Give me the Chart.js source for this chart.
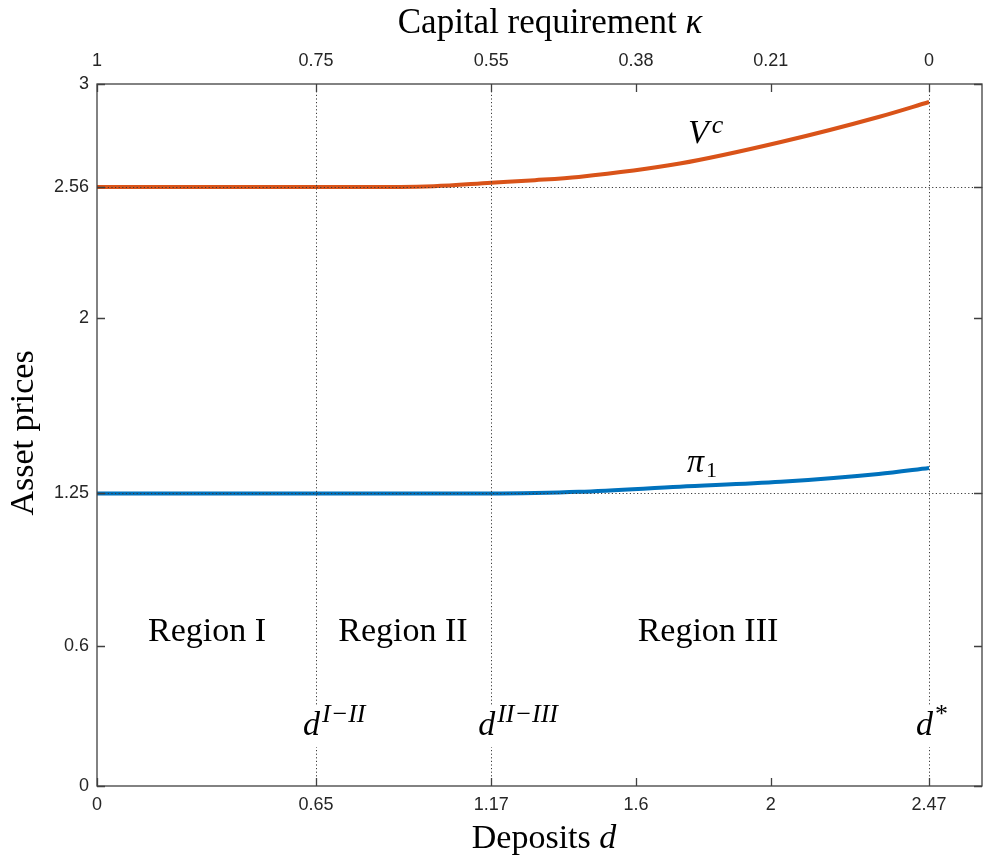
<!DOCTYPE html>
<html>
<head>
<meta charset="utf-8">
<script src="https://cdn.jsdelivr.net/npm/chart.js@4.4.1/dist/chart.umd.min.js"></script>
<style>
  html, body { margin: 0; padding: 0; background: #fff; }
  #wrap { width: 983px; height: 859px; }
</style>
</head>
<body>
<div id="wrap"><canvas id="assetChart" width="983" height="859"></canvas></div>
<script>
// data
const deposits  = [0, 0.3, 0.65, 0.9, 1.0, 1.17, 1.3, 1.43, 1.73, 2.03, 2.32, 2.47];
const valueVc   = [2.56, 2.56, 2.56, 2.56, 2.563, 2.578, 2.589, 2.603, 2.66, 2.752, 2.859, 2.923];
const pricePi1  = [1.25, 1.25, 1.25, 1.25, 1.25, 1.25, 1.252, 1.257, 1.279, 1.30, 1.333, 1.359];

const depositTicks = [0, 0.65, 1.17, 1.6, 2, 2.47];
const depositLabels = ['0', '0.65', '1.17', '1.6', '2', '2.47'];
const kappaLabels = ['1', '0.75', '0.55', '0.38', '0.21', '0'];
const priceTicks = [0, 0.6, 1.25, 2, 2.56, 3];
const priceLabels = ['0', '0.6', '1.25', '2', '2.56', '3'];

const refPrices = [1.25, 2.56];
const refDeposits = [0.65, 1.17, 2.47];

const SERIF = '"Liberation Serif", "Times New Roman", serif';
const SANS = '"Liberation Sans", Arial, sans-serif';
const AXIS_COLOR = '#404040';

function toPoints(xs, ys) {
    return xs.map((x, i) => ({ x: x, y: ys[i] }));
}

// draws a run of text pieces (different fonts / offsets) side by side
function drawRich(ctx, parts, x, y, align) {
    let total = 0;
    parts.forEach(p => { ctx.font = p.font; p.w = ctx.measureText(p.text).width; total += p.w + (p.gap || 0); });
    let cx = align === 'center' ? x - total / 2 : x;
    parts.forEach(p => {
        ctx.font = p.font;
        ctx.fillText(p.text, cx, y + (p.dy || 0));
        cx += p.w + (p.gap || 0);
    });
    return total;
}

const decorations = {
    id: 'decorations',
    afterDatasetsDraw(chart) {
        const ctx = chart.ctx;
        const area = chart.chartArea;
        const xs = chart.scales.x;
        const ys = chart.scales.y;

        ctx.save();
        // dotted reference lines
        ctx.strokeStyle = '#3a3a3a';
        ctx.lineWidth = 1;
        ctx.setLineDash([1.2, 2.4]);
        refPrices.forEach(v => {
            const py = Math.round(ys.getPixelForValue(v)) + 0.5;
            ctx.beginPath(); ctx.moveTo(area.left, py); ctx.lineTo(area.right, py); ctx.stroke();
        });
        refDeposits.forEach(v => {
            const px = Math.round(xs.getPixelForValue(v)) + 0.5;
            ctx.beginPath(); ctx.moveTo(px, area.top); ctx.lineTo(px, area.bottom); ctx.stroke();
        });
        ctx.setLineDash([]);

        // box and inward ticks
        ctx.strokeStyle = AXIS_COLOR;
        ctx.lineWidth = 1.3;
        ctx.strokeRect(area.left, area.top, area.right - area.left - 1, area.bottom - area.top);
        const tl = 8;
        ctx.beginPath();
        depositTicks.forEach(v => {
            const px = Math.round(xs.getPixelForValue(v)) + 0.5;
            ctx.moveTo(px, area.bottom); ctx.lineTo(px, area.bottom - tl);
            ctx.moveTo(px, area.top); ctx.lineTo(px, area.top + tl);
        });
        priceTicks.forEach(v => {
            const py = Math.round(ys.getPixelForValue(v)) + 0.5;
            ctx.moveTo(area.left, py); ctx.lineTo(area.left + tl, py);
            ctx.moveTo(area.right - 1, py); ctx.lineTo(area.right - 1 - tl, py);
        });
        ctx.stroke();

        // annotations
        ctx.fillStyle = '#000';
        ctx.textBaseline = 'alphabetic';
        ctx.textAlign = 'left';
        const big = '34px ' + SERIF;
        const itBig = 'italic 34px ' + SERIF;
        const itSup = 'italic 26px ' + SERIF;

        drawRich(ctx, [{ text: 'Region I', font: big }], 207, 641, 'center');
        drawRich(ctx, [{ text: 'Region II', font: big }], 403, 641, 'center');
        drawRich(ctx, [{ text: 'Region III', font: big }], 708, 641, 'center');

        drawRich(ctx, [{ text: 'V', font: itBig, gap: 3 }, { text: 'c', font: itSup, dy: -10 }], 688, 143, 'left');
        drawRich(ctx, [{ text: '\u03c0', font: itBig, gap: 2 }, { text: '1', font: '22px ' + SERIF, dy: 5 }], 687, 472, 'left');

        // boundary labels with white boxes that break the dotted lines
        const dLabels = [
            { v: 0.65, sup: 'I\u2212II' },
            { v: 1.17, sup: 'II\u2212III' },
            { v: 2.47, sup: '*' }
        ];
        dLabels.forEach(l => {
            const px = xs.getPixelForValue(l.v);
            const parts = [{ text: 'd', font: itBig, gap: 2 }, { text: l.sup, font: l.sup === '*' ? '26px ' + SERIF : itSup, dy: -13 }];
            let w = 0;
            parts.forEach(p => { ctx.font = p.font; w += ctx.measureText(p.text).width + (p.gap || 0); });
            const left = px - 13;
            ctx.fillStyle = '#fff';
            ctx.fillRect(left - 2, 705, w + 4, 42);
            ctx.fillStyle = '#000';
            drawRich(ctx, parts, left, 735, 'left');
        });
        ctx.restore();
    },
    afterDraw(chart) {
        const ctx = chart.ctx;
        ctx.save();
        ctx.fillStyle = '#000';
        ctx.textBaseline = 'alphabetic';
        ctx.textAlign = 'left';
        drawRich(ctx, [{ text: 'Capital requirement ', font: '35px ' + SERIF }, { text: '\u03ba', font: 'italic 35px ' + SERIF }], 550, 33, 'center');
        drawRich(ctx, [{ text: 'Deposits ', font: '34px ' + SERIF }, { text: 'd', font: 'italic 34px ' + SERIF }], 544, 848, 'center');
        ctx.translate(33, 433);
        ctx.rotate(-Math.PI / 2);
        drawRich(ctx, [{ text: 'Asset prices', font: '34px ' + SERIF }], 0, 0, 'center');
        ctx.restore();
    }
};

const ctx = document.getElementById('assetChart').getContext('2d');
const myChart = new Chart(ctx, {
    type: 'line',
    data: {
        datasets: [
            {
                label: 'V^c',
                data: toPoints(deposits, valueVc),
                borderColor: '#D95319',
                borderWidth: 4,
                pointRadius: 0,
                cubicInterpolationMode: 'monotone',
                fill: false
            },
            {
                label: 'pi_1',
                data: toPoints(deposits, pricePi1),
                borderColor: '#0072BD',
                borderWidth: 4,
                pointRadius: 0,
                cubicInterpolationMode: 'monotone',
                fill: false
            }
        ]
    },
    options: {
        responsive: false,
        animation: false,
        events: [],
        layout: { padding: 0 },
        plugins: { legend: { display: false }, tooltip: { enabled: false } },
        scales: {
            x: {
                type: 'linear',
                position: 'bottom',
                min: 0,
                max: 2.63,
                grid: { display: false, drawTicks: false },
                border: { display: false },
                afterBuildTicks: s => { s.ticks = depositTicks.map(v => ({ value: v })); },
                afterFit: s => { s.height = 73; },
                ticks: {
                    autoSkip: false,
                    maxRotation: 0,
                    padding: 8,
                    color: '#262626',
                    font: { family: SANS, size: 18 },
                    callback: (v, i) => depositLabels[i]
                }
            },
            x2: {
                type: 'linear',
                position: 'top',
                min: 0,
                max: 2.63,
                grid: { display: false, drawTicks: false },
                border: { display: false },
                afterBuildTicks: s => { s.ticks = depositTicks.map(v => ({ value: v })); },
                afterFit: s => { s.height = 84; },
                ticks: {
                    autoSkip: false,
                    maxRotation: 0,
                    padding: 12,
                    color: '#262626',
                    font: { family: SANS, size: 18 },
                    callback: (v, i) => kappaLabels[i]
                }
            },
            y: {
                type: 'linear',
                min: 0,
                max: 3,
                grid: { display: false, drawTicks: false },
                border: { display: false },
                afterBuildTicks: s => { s.ticks = priceTicks.map(v => ({ value: v })); },
                afterFit: s => { s.width = 97; },
                ticks: {
                    autoSkip: false,
                    padding: 8,
                    color: '#262626',
                    font: { family: SANS, size: 18 },
                    callback: (v, i) => priceLabels[i]
                }
            }
        }
    },
    plugins: [decorations]
});
</script>
</body>
</html>
